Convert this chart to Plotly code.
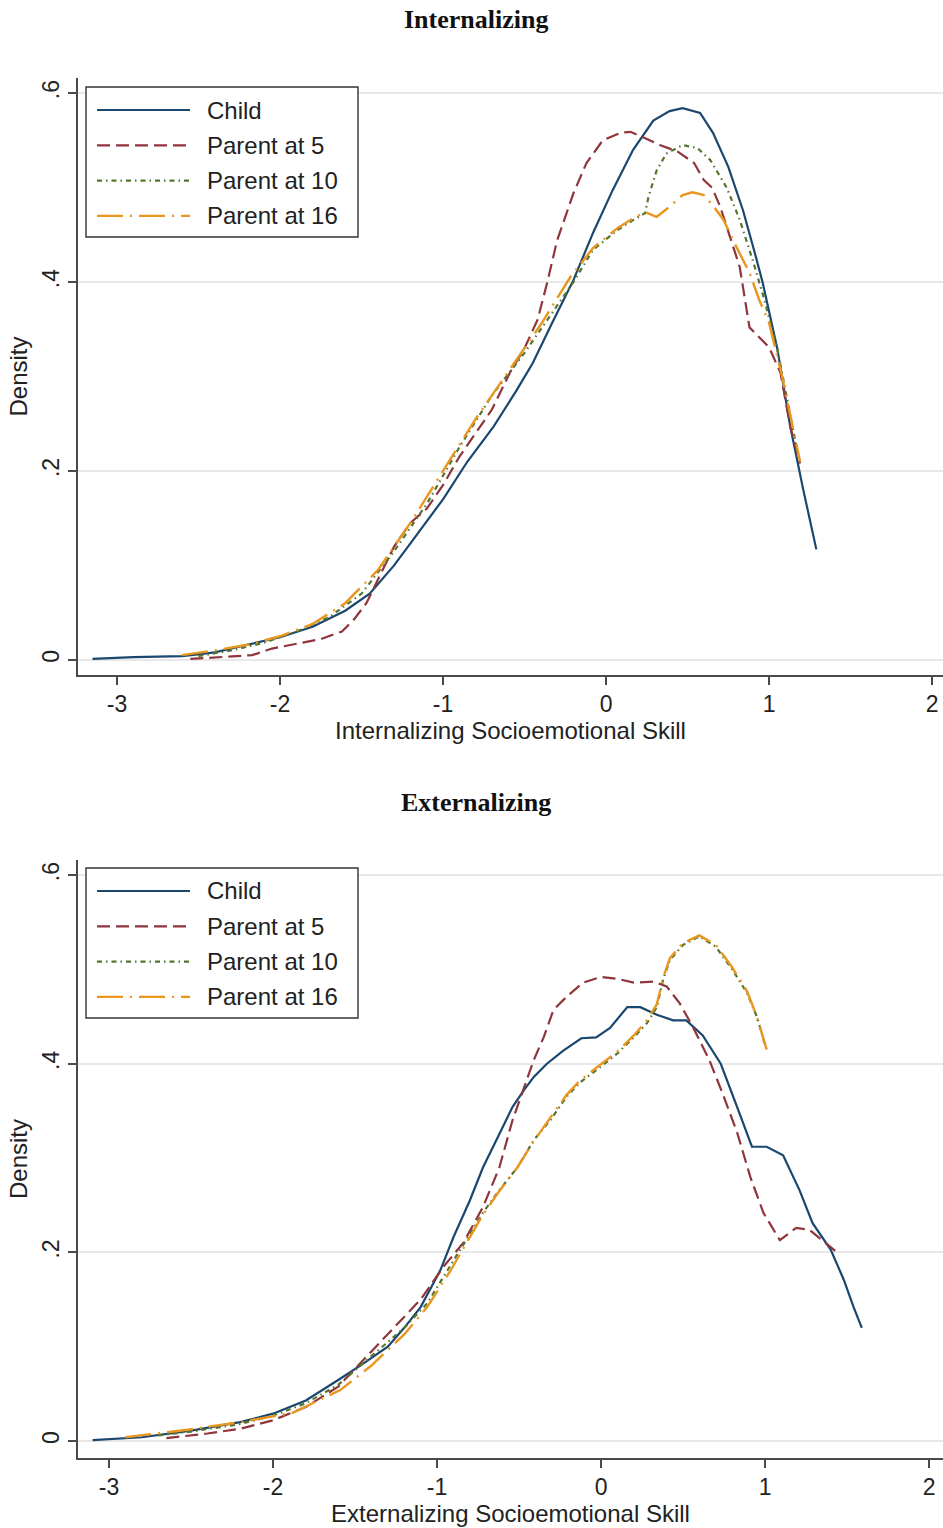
import plotly.graph_objects as go

# ---------------- Data ----------------
series_names = ["Child", "Parent at 5", "Parent at 10", "Parent at 16"]

# Internalizing panel
int_child_x = [-3.15, -2.9, -2.6, -2.4, -2.2, -2.0, -1.8, -1.6, -1.45, -1.3, -1.15, -1.0, -0.85, -0.69, -0.55, -0.45,
               -0.33, -0.2, -0.08, 0.04, 0.166, 0.29, 0.39, 0.47, 0.577, 0.656, 0.75, 0.84, 0.914, 0.96, 1.05, 1.13,
               1.21, 1.29]
int_child_y = [0.001, 0.003, 0.004, 0.008, 0.016, 0.024, 0.035, 0.052, 0.07, 0.1, 0.135, 0.17, 0.21, 0.247, 0.285,
               0.314, 0.357, 0.402, 0.452, 0.497, 0.54, 0.571, 0.581, 0.584, 0.579, 0.558, 0.522, 0.476, 0.43, 0.4,
               0.33, 0.247, 0.18, 0.117]

int_p5_x = [-2.55, -2.35, -2.17, -2.05, -1.88, -1.75, -1.62, -1.55, -1.47, -1.4, -1.3, -1.2, -1.1, -1.0, -0.9, -0.8,
            -0.7, -0.59, -0.5, -0.42, -0.36, -0.3, -0.2, -0.12, -0.02, 0.09, 0.15, 0.23, 0.33, 0.44, 0.54, 0.6, 0.65,
            0.7, 0.76, 0.82, 0.88, 0.94, 1.0, 1.07, 1.13, 1.19]
int_p5_y = [0.001, 0.003, 0.005, 0.012, 0.018, 0.022, 0.03, 0.042, 0.06, 0.085, 0.12, 0.145, 0.16, 0.185, 0.215,
            0.24, 0.265, 0.304, 0.33, 0.36, 0.4, 0.444, 0.494, 0.526, 0.55, 0.558, 0.559, 0.553, 0.545, 0.538, 0.526,
            0.508, 0.5, 0.48, 0.448, 0.416, 0.352, 0.342, 0.331, 0.304, 0.247, 0.208]

int_p10_x = [-2.5, -2.3, -2.1, -1.9, -1.7, -1.5, -1.3, -1.1, -0.9, -0.7, -0.5, -0.33, -0.2, -0.08, 0.07, 0.17, 0.24,
             0.26, 0.31, 0.37, 0.47, 0.56, 0.64, 0.74, 0.82, 0.9, 0.96, 1.05, 1.12, 1.18]
int_p10_y = [0.004, 0.01, 0.018, 0.03, 0.045, 0.07, 0.115, 0.165, 0.225, 0.28, 0.325, 0.367, 0.4, 0.434, 0.455,
             0.466, 0.473, 0.49, 0.518, 0.536, 0.545, 0.542, 0.529, 0.5, 0.466, 0.423, 0.388, 0.33, 0.27, 0.215]

int_p16_x = [-2.6, -2.4, -2.2, -2.0, -1.8, -1.6, -1.4, -1.2, -1.0, -0.8, -0.6, -0.4, -0.22, -0.08, 0.07, 0.17, 0.24,
             0.31, 0.37, 0.47, 0.53, 0.6, 0.66, 0.72, 0.8, 0.88, 0.94, 1.0, 1.08, 1.14, 1.19]
int_p16_y = [0.005, 0.01, 0.016, 0.025, 0.038, 0.06, 0.095, 0.145, 0.2, 0.255, 0.305, 0.355, 0.405, 0.436, 0.457,
             0.468, 0.474, 0.469, 0.477, 0.492, 0.495, 0.492, 0.48, 0.466, 0.437, 0.41, 0.381, 0.357, 0.3, 0.25, 0.21]

# Externalizing panel
ext_child_x = [-3.1, -2.8, -2.5, -2.2, -2.0, -1.8, -1.6, -1.45, -1.3, -1.2, -1.1, -0.98, -0.9, -0.8, -0.72, -0.62,
               -0.54, -0.47, -0.41, -0.33, -0.23, -0.12, -0.03, 0.055, 0.16, 0.24, 0.34, 0.44, 0.52, 0.62, 0.73, 0.83,
               0.92, 1.01, 1.11, 1.21, 1.29, 1.4, 1.48, 1.54, 1.59]
ext_child_y = [0.001, 0.004, 0.011, 0.02, 0.029, 0.043, 0.065, 0.082, 0.1, 0.12, 0.142, 0.181, 0.216, 0.255, 0.29,
               0.326, 0.354, 0.372, 0.386, 0.4, 0.414, 0.427, 0.428, 0.438, 0.46, 0.46, 0.452, 0.446, 0.446, 0.43,
               0.4, 0.354, 0.312, 0.312, 0.303, 0.266, 0.231, 0.203, 0.171, 0.142, 0.12]

ext_p5_x = [-2.65, -2.4, -2.2, -2.0, -1.8, -1.6, -1.4, -1.25, -1.1, -0.96, -0.84, -0.72, -0.62, -0.54, -0.47, -0.41,
            -0.35, -0.29, -0.21, -0.11, 0.0, 0.1, 0.2, 0.32, 0.4, 0.48, 0.56, 0.66, 0.74, 0.83, 0.91, 0.99, 1.09,
            1.19, 1.27, 1.35, 1.44]
ext_p5_y = [0.003, 0.008, 0.013, 0.022, 0.036, 0.058, 0.095, 0.122, 0.15, 0.185, 0.21, 0.248, 0.29, 0.34, 0.375,
            0.404, 0.428, 0.457, 0.471, 0.486, 0.492, 0.49, 0.486, 0.487, 0.482, 0.464, 0.439, 0.404, 0.369, 0.327,
            0.28, 0.242, 0.213, 0.226, 0.224, 0.213, 0.2]

ext_p10_x = [-2.7, -2.5, -2.2, -2.0, -1.8, -1.6, -1.4, -1.2, -1.06, -0.92, -0.82, -0.72, -0.62, -0.51, -0.41, -0.31,
             -0.21, -0.13, 0.0, 0.1, 0.2, 0.28, 0.34, 0.38, 0.42, 0.5, 0.6, 0.7, 0.8, 0.89, 0.95, 1.0]
ext_p10_y = [0.006, 0.01, 0.018, 0.027, 0.04, 0.06, 0.09, 0.12, 0.146, 0.185, 0.213, 0.242, 0.266, 0.29, 0.319,
             0.34, 0.365, 0.38, 0.397, 0.411, 0.428, 0.443, 0.46, 0.49, 0.51, 0.526, 0.535, 0.524, 0.5, 0.475, 0.45,
             0.42]

ext_p16_x = [-2.9, -2.7, -2.52, -2.2, -1.88, -1.59, -1.4, -1.2, -1.06, -0.92, -0.82, -0.72, -0.62, -0.51, -0.41,
             -0.31, -0.21, -0.13, 0.0, 0.1, 0.2, 0.28, 0.34, 0.38, 0.42, 0.5, 0.6, 0.7, 0.8, 0.89, 0.95, 1.01]
ext_p16_y = [0.004, 0.008, 0.012, 0.02, 0.03, 0.054, 0.08, 0.113, 0.142, 0.18, 0.21, 0.24, 0.265, 0.29, 0.318,
             0.342, 0.367, 0.382, 0.399, 0.413, 0.43, 0.446, 0.463, 0.492, 0.512, 0.528, 0.536, 0.526, 0.502, 0.477,
             0.45, 0.415]

y_tickvals = [0, 0.2, 0.4, 0.6]
y_ticktext = ["0", ".2", ".4", ".6"]
x_tickvals = [-3, -2, -1, 0, 1, 2]
x_ticktext = ["-3", "-2", "-1", "0", "1", "2"]

# ---------------- Styles ----------------
W, H = 943, 1528
colors = ["#1a476f", "#90353b", "#55752f", "#e8961f"]
dashes = ["solid", "13px,6px", "5px,4px,1.5px,4px", "26px,7px,2px,7px"]
widths = [2.2, 2.2, 2.2, 2.4]
SANS = "Liberation Sans, Arial, sans-serif"
SERIF = "Liberation Serif, Times New Roman, serif"


def px_x(p):
    return p / W


def px_y(p):
    return 1 - p / H


fig = go.Figure()

panels = [
    ("x", "y", [(int_child_x, int_child_y), (int_p5_x, int_p5_y), (int_p10_x, int_p10_y), (int_p16_x, int_p16_y)]),
    ("x2", "y2", [(ext_child_x, ext_child_y), (ext_p5_x, ext_p5_y), (ext_p10_x, ext_p10_y), (ext_p16_x, ext_p16_y)]),
]
for xa, ya, data in panels:
    for i, (xs, ys) in enumerate(data):
        fig.add_trace(go.Scatter(
            x=xs, y=ys, mode="lines", name=series_names[i], xaxis=xa, yaxis=ya,
            line=dict(color=colors[i], width=widths[i], dash=dashes[i]),
            showlegend=False, hoverinfo="x+y+name",
        ))

axis_common = dict(showline=True, linecolor="#4a4a4a", linewidth=1.6, ticks="outside", ticklen=8,
                   tickwidth=1.6, tickcolor="#4a4a4a", zeroline=False,
                   tickfont=dict(family=SANS, size=23, color="#222"))
title_font = dict(family=SANS, size=24, color="#222")

xdom = [px_x(78), 1.0]
fig.update_layout(
    width=W, height=H, margin=dict(l=0, r=0, t=0, b=0),
    paper_bgcolor="white", plot_bgcolor="white", showlegend=False,
    xaxis=dict(domain=xdom, anchor="y", range=[-3.239, 2.067], tickvals=x_tickvals, ticktext=x_ticktext,
               showgrid=False,
               title=dict(text="Internalizing Socioemotional Skill", font=title_font, standoff=1),
               **axis_common),
    yaxis=dict(domain=[px_y(675), px_y(78)], anchor="x", range=[-0.016, 0.616], tickvals=y_tickvals,
               ticktext=y_ticktext, tickangle=-90, showgrid=True, gridcolor="#e8e8e8", gridwidth=1.5,
               title=dict(text="Density", font=title_font, standoff=4),
               **axis_common),
    xaxis2=dict(domain=xdom, anchor="y2", range=[-3.189, 2.085], tickvals=x_tickvals, ticktext=x_ticktext,
                showgrid=False,
                title=dict(text="Externalizing Socioemotional Skill", font=title_font, standoff=1),
                **axis_common),
    yaxis2=dict(domain=[px_y(1458), px_y(860)], anchor="x2", range=[-0.018, 0.616], tickvals=y_tickvals,
                ticktext=y_ticktext, tickangle=-90, showgrid=True, gridcolor="#e8e8e8", gridwidth=1.5,
                title=dict(text="Density", font=title_font, standoff=4),
                **axis_common),
)

annotations = [
    dict(text="<b>Internalizing</b>", x=px_x(476), y=px_y(20), xref="paper", yref="paper", showarrow=False,
         xanchor="center", yanchor="middle", font=dict(family=SERIF, size=26, color="#111")),
    dict(text="<b>Externalizing</b>", x=px_x(476), y=px_y(802), xref="paper", yref="paper", showarrow=False,
         xanchor="center", yanchor="middle", font=dict(family=SERIF, size=26, color="#111")),
]
shapes = []

# Hand-drawn legends (Stata-style long key samples)
for top in (87, 868):
    shapes.append(dict(type="rect", xref="paper", yref="paper", x0=px_x(86), x1=px_x(358),
                       y0=px_y(top + 150), y1=px_y(top), line=dict(color="#333", width=1.4),
                       fillcolor="white", layer="above"))
    for i, name in enumerate(series_names):
        ry = top + 23 + i * 35.3
        shapes.append(dict(type="line", xref="paper", yref="paper", x0=px_x(97), x1=px_x(190),
                           y0=px_y(ry), y1=px_y(ry), layer="above",
                           line=dict(color=colors[i], width=widths[i], dash=dashes[i])))
        annotations.append(dict(text=name, x=px_x(205), y=px_y(ry), xref="paper", yref="paper", showarrow=False,
                                xanchor="left", yanchor="middle",
                                font=dict(family=SANS, size=24, color="#222")))

fig.update_layout(annotations=annotations, shapes=shapes)
fig.write_html("out.html")
